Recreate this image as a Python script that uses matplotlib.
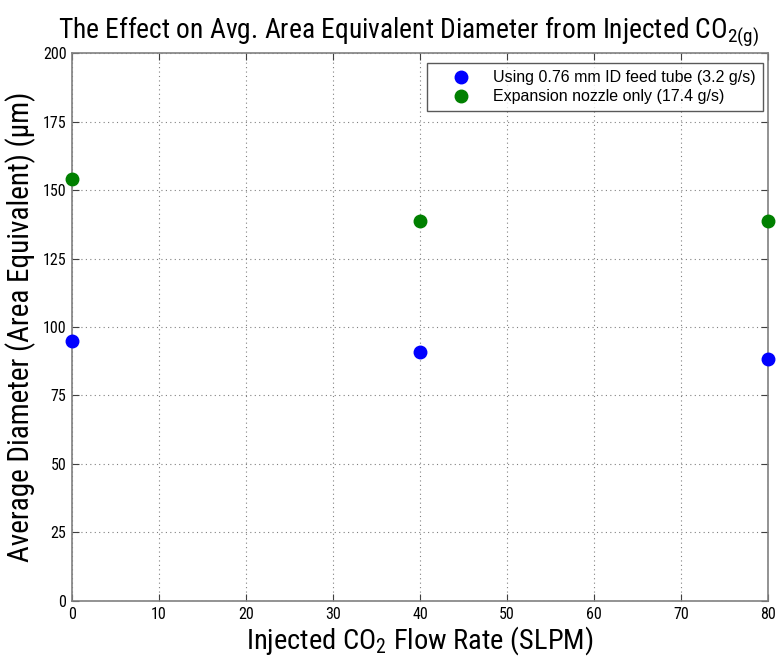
import matplotlib
matplotlib.use("Agg")
import matplotlib.pyplot as plt

NARROW = "Roboto Condensed"
REG = "Liberation Sans"
plt.rcParams["mathtext.fontset"] = "custom"
plt.rcParams["mathtext.rm"] = NARROW
plt.rcParams["mathtext.it"] = NARROW + ":italic"
plt.rcParams["mathtext.default"] = "rm"

flow_rate = [0, 40, 80]
diam_feed_tube = [94.9, 91.0, 88.2]
diam_nozzle_only = [154.0, 138.7, 138.8]
labels = ["Using 0.76 mm ID feed tube (3.2 g/s)", "Expansion nozzle only (17.4 g/s)"]
xticks = list(range(0, 81, 10))
yticks = list(range(0, 201, 25))

fig = plt.figure(figsize=(7.81, 6.61), dpi=100)
ax = fig.add_axes([0.0922, 0.0908, 0.8912, 0.829])

ax.plot(flow_rate, diam_feed_tube, "o", color="#0000ff", markersize=9, label=labels[0],
        clip_on=False, zorder=5)
ax.plot(flow_rate, diam_nozzle_only, "o", color="#008000", markersize=9, label=labels[1],
        clip_on=False, zorder=5)

ax.set_xlim(0, 80)
ax.set_ylim(0, 200)
ax.set_xticks(xticks)
ax.set_yticks(yticks)
ax.grid(True, linestyle=(0, (1, 3)), color="#808080", linewidth=0.8)
ax.tick_params(direction="in", length=5, colors="#404040", labelcolor="black",
               top=True, right=True, pad=4)
for lab in ax.get_xticklabels() + ax.get_yticklabels():
    lab.set_fontfamily(NARROW)
    lab.set_fontsize(11.5)
for s in ax.spines.values():
    s.set_color("#808080")
    s.set_linewidth(1.2)

ax.set_xlabel(r"Injected CO$_2$ Flow Rate (SLPM)", fontsize=20.5, family=NARROW, labelpad=2)
ax.set_ylabel("Average Diameter (Area Equivalent) (\u03bcm)", fontsize=21, family=NARROW,
              labelpad=5)
ax.set_title(r"The Effect on Avg. Area Equivalent Diameter from Injected CO$_{2(g)}$",
             fontsize=19.8, family=NARROW, pad=11, x=0.483)

leg = ax.legend(loc="upper right", bbox_to_anchor=(0.9928, 0.9818),
                prop={"family": REG, "size": 11.5},
                frameon=True, fancybox=False, edgecolor="#303030", borderpad=0.45,
                handlelength=3.4, handletextpad=0.3, labelspacing=0.25, borderaxespad=0)
leg.get_frame().set_linewidth(1.0)

fig.savefig("out.png", dpi=100)
